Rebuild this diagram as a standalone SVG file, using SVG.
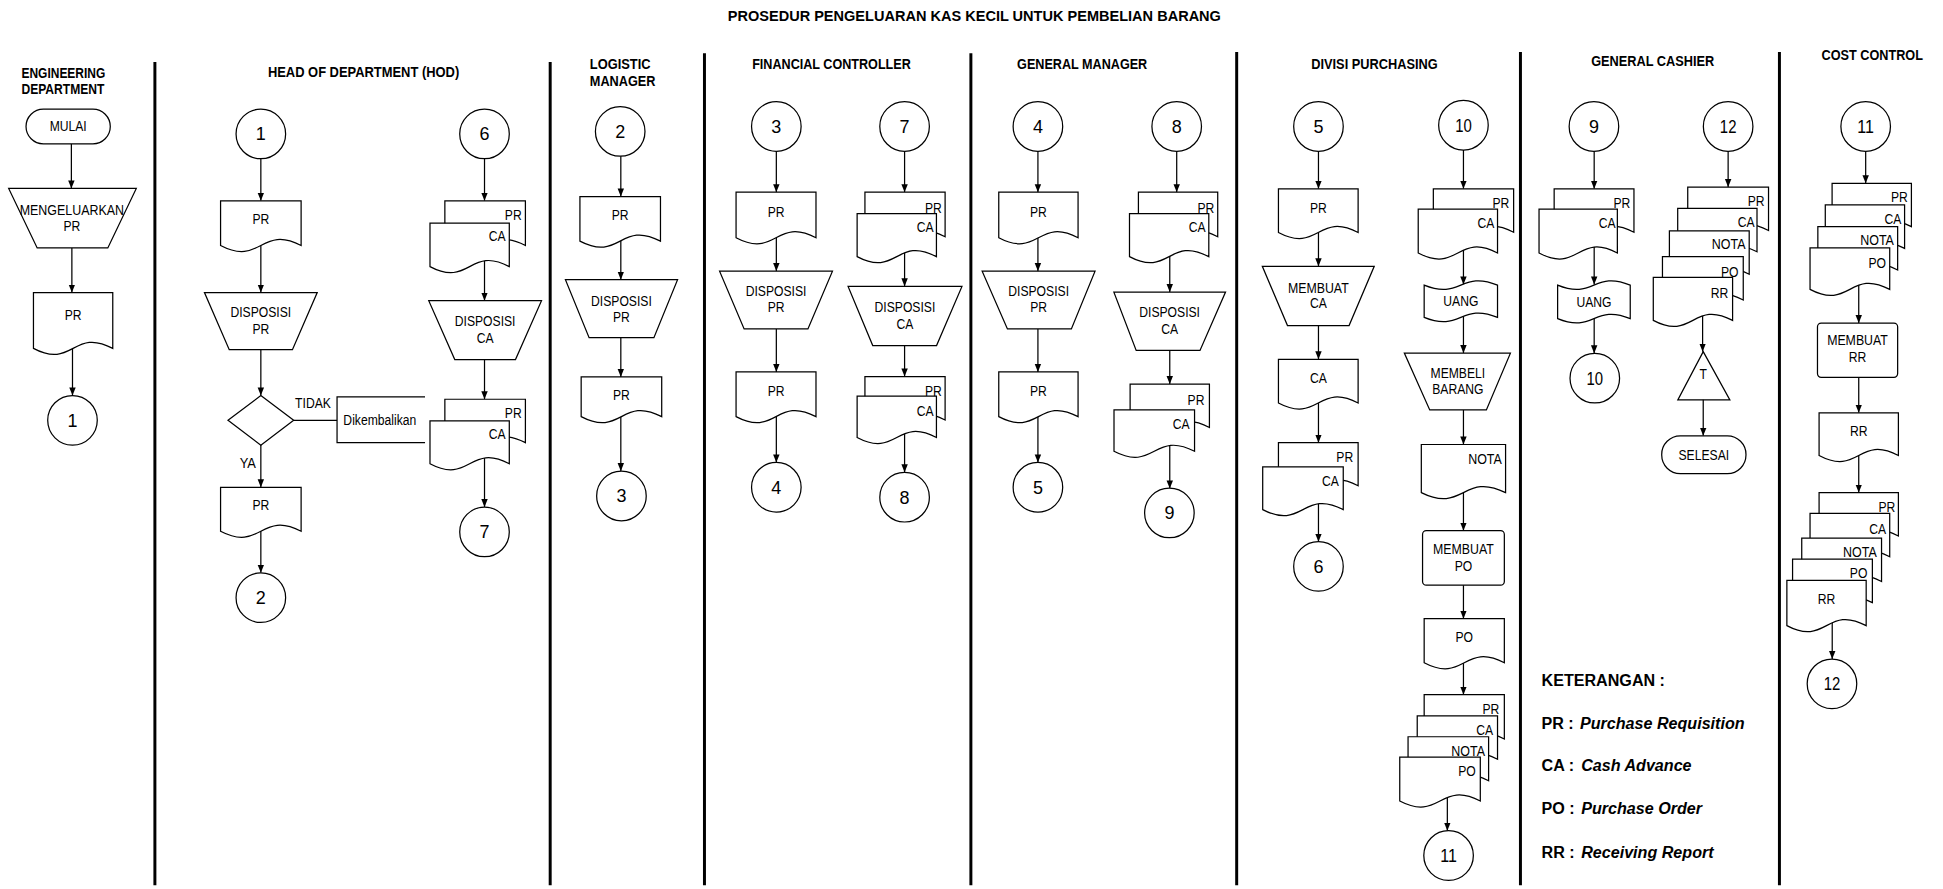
<svg xmlns="http://www.w3.org/2000/svg" width="1943" height="889" viewBox="0 0 1943 889">
<defs>
<marker id="ah" viewBox="0 0 10 10" refX="10" refY="5" markerWidth="6.5" markerHeight="6.5" markerUnits="userSpaceOnUse" orient="auto"><path d="M0,1 L10,5 L0,9 Z" fill="#000"/></marker>
<style>
.s{fill:#fff;stroke:#000;stroke-width:1}
.o{fill:none;stroke:#000;stroke-width:1}
text{font-family:"Liberation Sans",Arial,sans-serif;fill:#000}
.t{font-size:11.3px;text-anchor:middle}
.e{font-size:11.3px;text-anchor:end}
.n{font-size:14.5px;text-anchor:middle}
.h{font-size:11.3px;font-weight:bold;text-anchor:middle}
.hs{font-size:11.3px;font-weight:bold;text-anchor:start}
.lg{font-size:13px;font-weight:bold}
.lane{stroke:#000;stroke-width:2.4}
#connectors line{stroke:#000;stroke-width:1;marker-end:url(#ah)}
</style>
</defs>
<rect width="1943" height="889" fill="#fff"/>
<g transform="scale(1.23916,1.2399)">
<text x="786.3" y="17" font-size="12.5" font-weight="bold" text-anchor="middle" textLength="398" lengthAdjust="spacingAndGlyphs">PROSEDUR PENGELUARAN KAS KECIL UNTUK PEMBELIAN BARANG</text>
<g id="lanes">
<line class="lane" x1="125" y1="50" x2="125" y2="714"/>
<line class="lane" x1="444" y1="50" x2="444" y2="714"/>
<line class="lane" x1="568.5" y1="43" x2="568.5" y2="714"/>
<line class="lane" x1="783.5" y1="43" x2="783.5" y2="714"/>
<line class="lane" x1="998" y1="42" x2="998" y2="714"/>
<line class="lane" x1="1227" y1="42" x2="1227" y2="714"/>
<line class="lane" x1="1436" y1="42" x2="1436" y2="714"/>
</g>
<g id="headers">
<text class="hs" x="17.3" y="62.6" textLength="67.7" lengthAdjust="spacingAndGlyphs">ENGINEERING</text>
<text class="hs" x="17.3" y="76" textLength="66.9" lengthAdjust="spacingAndGlyphs">DEPARTMENT</text>
<text class="h" x="293.4" y="61.8" textLength="154.4" lengthAdjust="spacingAndGlyphs">HEAD OF DEPARTMENT (HOD)</text>
<text class="hs" x="476" y="55.4" textLength="49" lengthAdjust="spacingAndGlyphs">LOGISTIC</text>
<text class="hs" x="476" y="69.3" textLength="53" lengthAdjust="spacingAndGlyphs">MANAGER</text>
<text class="h" x="671" y="55.4" textLength="128" lengthAdjust="spacingAndGlyphs">FINANCIAL CONTROLLER</text>
<text class="h" x="873.3" y="55.6" textLength="105" lengthAdjust="spacingAndGlyphs">GENERAL MANAGER</text>
<text class="h" x="1109.2" y="55.4" textLength="102" lengthAdjust="spacingAndGlyphs">DIVISI PURCHASING</text>
<text class="h" x="1333.7" y="53.5" textLength="99.3" lengthAdjust="spacingAndGlyphs">GENERAL CASHIER</text>
<text class="h" x="1510.9" y="48.5" textLength="81.8" lengthAdjust="spacingAndGlyphs">COST CONTROL</text>
</g>
<g id="connectors">
<line x1="57.6" y1="116" x2="57.6" y2="152"/>
<line x1="58" y1="195" x2="58" y2="236"/>
<line x1="58.5" y1="275" x2="58.5" y2="319"/>
<line x1="210.5" y1="120" x2="210.5" y2="162"/>
<line x1="210.5" y1="192" x2="210.5" y2="236"/>
<line x1="210.5" y1="276" x2="210.5" y2="319"/>
<line x1="210.5" y1="352" x2="210.5" y2="393"/>
<line x1="210.5" y1="422" x2="210.5" y2="462"/>
<path d="M237 339 H272" class="o"/>
<line x1="391" y1="120" x2="391" y2="162"/>
<line x1="391" y1="205" x2="391" y2="242.5"/>
<line x1="391" y1="285" x2="391" y2="322"/>
<line x1="391" y1="365" x2="391" y2="409"/>
<line x1="501" y1="120" x2="501" y2="158.5"/>
<line x1="501" y1="188" x2="501" y2="225.6"/>
<line x1="501" y1="266" x2="501" y2="304"/>
<line x1="501" y1="330" x2="501" y2="380"/>
<line x1="626.5" y1="118" x2="626.5" y2="155"/>
<line x1="626.5" y1="185" x2="626.5" y2="218.7"/>
<line x1="626.5" y1="260" x2="626.5" y2="300"/>
<line x1="626.5" y1="330" x2="626.5" y2="373"/>
<line x1="730" y1="118" x2="730" y2="155"/>
<line x1="730" y1="198" x2="730" y2="231"/>
<line x1="730" y1="272" x2="730" y2="303.7"/>
<line x1="730" y1="345" x2="730" y2="381"/>
<line x1="837.6" y1="118" x2="837.6" y2="155"/>
<line x1="837.6" y1="185" x2="837.6" y2="218.7"/>
<line x1="837.6" y1="260" x2="837.6" y2="300"/>
<line x1="837.6" y1="330" x2="837.6" y2="373"/>
<line x1="949.6" y1="118" x2="949.6" y2="155"/>
<line x1="944" y1="198" x2="944" y2="235.6"/>
<line x1="944" y1="276" x2="944" y2="309.8"/>
<line x1="944" y1="355" x2="944" y2="394"/>
<line x1="1064" y1="118" x2="1064" y2="152.3"/>
<line x1="1064" y1="182" x2="1064" y2="214.8"/>
<line x1="1064" y1="256" x2="1064" y2="289.8"/>
<line x1="1064" y1="320" x2="1064" y2="357"/>
<line x1="1064" y1="403" x2="1064" y2="437"/>
<line x1="1181" y1="117" x2="1181" y2="152.3"/>
<line x1="1181" y1="196" x2="1181" y2="229.5"/>
<line x1="1181" y1="250" x2="1181" y2="284.8"/>
<line x1="1181" y1="325" x2="1181" y2="358.5"/>
<line x1="1181" y1="392" x2="1181" y2="428"/>
<line x1="1181" y1="466" x2="1181" y2="499"/>
<line x1="1181" y1="530" x2="1181" y2="560.3"/>
<line x1="1168" y1="640" x2="1168" y2="670"/>
<line x1="1286.5" y1="118" x2="1286.5" y2="152.3"/>
<line x1="1286.5" y1="196" x2="1286.5" y2="229.5"/>
<line x1="1286.5" y1="252" x2="1286.5" y2="285"/>
<line x1="1394.6" y1="118" x2="1394.6" y2="150.9"/>
<line x1="1374" y1="250" x2="1374" y2="283.6"/>
<line x1="1374.5" y1="318" x2="1374.5" y2="351.5"/>
<line x1="1505.6" y1="118" x2="1505.6" y2="147.8"/>
<line x1="1500" y1="225" x2="1500" y2="260.6"/>
<line x1="1500" y1="298" x2="1500" y2="332.9"/>
<line x1="1500" y1="360" x2="1500" y2="397.3"/>
<line x1="1478.6" y1="500" x2="1478.6" y2="531.5"/>
</g>

<g id="eng-mulai"><rect class="s" x="21" y="88" width="68" height="28" rx="14"/><text class="t" x="55" y="106" textLength="29.9" lengthAdjust="spacingAndGlyphs">MULAI</text></g>
<g id="eng-mengeluarkan"><path class="s" d="M7 152 H110 L87 200 H30 Z"/><text class="t" x="58" y="173" textLength="84.2" lengthAdjust="spacingAndGlyphs">MENGELUARKAN</text><text class="t" x="58" y="186" textLength="13.6" lengthAdjust="spacingAndGlyphs">PR</text></g>
<g id="eng-pr"><path class="s" d="M27 236 H91 V281 C59 264 59 298 27 281 Z"/><text class="t" x="59" y="258" textLength="13.6" lengthAdjust="spacingAndGlyphs">PR</text></g>
<g id="eng-c1"><circle class="s" cx="58.5" cy="339" r="20"/><text class="n" x="58.5" y="344.2">1</text></g>

<g id="hod-c1"><circle class="s" cx="210.5" cy="108" r="20"/><text class="n" x="210.5" y="113.2">1</text></g>
<g id="hod-pr1"><path class="s" d="M178 162 H243 V198 C210.5 181 210.5 215 178 198 Z"/><text class="t" x="210.5" y="181" textLength="13.6" lengthAdjust="spacingAndGlyphs">PR</text></g>
<g id="hod-disp-pr"><path class="s" d="M165 236 H256 L236 282 H185 Z"/><text class="t" x="210.5" y="255.5" textLength="49" lengthAdjust="spacingAndGlyphs">DISPOSISI</text><text class="t" x="210.5" y="269" textLength="13.6" lengthAdjust="spacingAndGlyphs">PR</text></g>
<g id="hod-decision"><path class="s" d="M210.5 319 L237 339 L210.5 359 L184 339 Z"/><text class="t" x="252.6" y="329" textLength="28.9" lengthAdjust="spacingAndGlyphs">TIDAK</text><text class="t" x="200" y="377.4" textLength="13.1" lengthAdjust="spacingAndGlyphs">YA</text></g>
<g id="hod-dikembalikan"><path class="o" d="M343 320 H272 V357 H343"/><text class="t" x="306.5" y="343" textLength="58.8" lengthAdjust="spacingAndGlyphs">Dikembalikan</text></g>
<g id="hod-pr2"><path class="s" d="M178 393 H243 V428.5 C210.5 411.5 210.5 445.5 178 428.5 Z"/><text class="t" x="210.5" y="411" textLength="13.6" lengthAdjust="spacingAndGlyphs">PR</text></g>
<g id="hod-c2"><circle class="s" cx="210.5" cy="482" r="20"/><text class="n" x="210.5" y="487.2">2</text></g>
<g id="hod-c6"><circle class="s" cx="391" cy="108" r="20"/><text class="n" x="391" y="113.2">6</text></g>
<g id="hod-prca1"><path class="s" d="M359 162 H424 V198 C391.5 181 391.5 215 359 198 Z"/><path class="s" d="M347 180 H411 V215 C379 198 379 232 347 215 Z"/><text class="e" x="421" y="177.5" textLength="13.6" lengthAdjust="spacingAndGlyphs">PR</text><text class="e" x="408" y="194" textLength="13.6" lengthAdjust="spacingAndGlyphs">CA</text></g>
<g id="hod-disp-ca"><path class="s" d="M346 242.5 H437 L416 290 H367 Z"/><text class="t" x="391.5" y="263" textLength="49" lengthAdjust="spacingAndGlyphs">DISPOSISI</text><text class="t" x="391.5" y="276.5" textLength="13.6" lengthAdjust="spacingAndGlyphs">CA</text></g>
<g id="hod-prca2"><path class="s" d="M359 322 H424 V357 C391.5 340 391.5 374 359 357 Z"/><path class="s" d="M347 339.5 H411 V374 C379 357 379 391 347 374 Z"/><text class="e" x="421" y="337.5" textLength="13.6" lengthAdjust="spacingAndGlyphs">PR</text><text class="e" x="408" y="354" textLength="13.6" lengthAdjust="spacingAndGlyphs">CA</text></g>
<g id="hod-c7"><circle class="s" cx="391" cy="429" r="20"/><text class="n" x="391" y="434.2">7</text></g>

<g id="lm-c2"><circle class="s" cx="500.5" cy="106" r="20"/><text class="n" x="500.5" y="111.2">2</text></g>
<g id="lm-pr1"><path class="s" d="M468 158.5 H533 V194.5 C500.5 177.5 500.5 211.5 468 194.5 Z"/><text class="t" x="500.5" y="177.7" textLength="13.6" lengthAdjust="spacingAndGlyphs">PR</text></g>
<g id="lm-disp"><path class="s" d="M456.3 225.6 H546.8 L527.7 272.3 H475.4 Z"/><text class="t" x="501.5" y="246.6" textLength="49" lengthAdjust="spacingAndGlyphs">DISPOSISI</text><text class="t" x="501.5" y="259.6" textLength="13.6" lengthAdjust="spacingAndGlyphs">PR</text></g>
<g id="lm-pr2"><path class="s" d="M469 304 H534 V336 C501.5 319 501.5 353 469 336 Z"/><text class="t" x="501.5" y="323" textLength="13.6" lengthAdjust="spacingAndGlyphs">PR</text></g>
<g id="lm-c3"><circle class="s" cx="501.5" cy="400" r="20"/><text class="n" x="501.5" y="405.2">3</text></g>

<g id="fc-c3"><circle class="s" cx="626.5" cy="102" r="20"/><text class="n" x="626.5" y="107.2">3</text></g>
<g id="fc-pr1"><path class="s" d="M594 155 H658.5 V191.7 C626.25 174.7 626.25 208.7 594 191.7 Z"/><text class="t" x="626.3" y="175" textLength="13.6" lengthAdjust="spacingAndGlyphs">PR</text></g>
<g id="fc-disp-pr"><path class="s" d="M580.7 218.7 H671.8 L652 265.3 H600.5 Z"/><text class="t" x="626.3" y="238.8" textLength="49" lengthAdjust="spacingAndGlyphs">DISPOSISI</text><text class="t" x="626.3" y="252" textLength="13.6" lengthAdjust="spacingAndGlyphs">PR</text></g>
<g id="fc-pr2"><path class="s" d="M594 300 H658.5 V336 C626.25 319 626.25 353 594 336 Z"/><text class="t" x="626.3" y="319" textLength="13.6" lengthAdjust="spacingAndGlyphs">PR</text></g>
<g id="fc-c4"><circle class="s" cx="626.5" cy="393" r="20"/><text class="n" x="626.5" y="398.2">4</text></g>
<g id="fc-c7"><circle class="s" cx="730" cy="102" r="20"/><text class="n" x="730" y="107.2">7</text></g>
<g id="fc-prca1"><path class="s" d="M698 155 H762.7 V191 C730.35 174 730.35 208 698 191 Z"/><path class="s" d="M691.7 172.3 H755.7 V207 C723.7 190 723.7 224 691.7 207 Z"/><text class="e" x="760" y="171.5" textLength="13.6" lengthAdjust="spacingAndGlyphs">PR</text><text class="e" x="753.5" y="187.5" textLength="13.6" lengthAdjust="spacingAndGlyphs">CA</text></g>
<g id="fc-disp-ca"><path class="s" d="M684.4 231 H776.3 L755.8 278.7 H704.3 Z"/><text class="t" x="730.3" y="251.3" textLength="49" lengthAdjust="spacingAndGlyphs">DISPOSISI</text><text class="t" x="730.3" y="265" textLength="13.6" lengthAdjust="spacingAndGlyphs">CA</text></g>
<g id="fc-prca2"><path class="s" d="M698 303.7 H762.7 V338.7 C730.35 321.7 730.35 355.7 698 338.7 Z"/><path class="s" d="M691.7 319.5 H755.7 V352.9 C723.7 335.9 723.7 369.9 691.7 352.9 Z"/><text class="e" x="760" y="319.4" textLength="13.6" lengthAdjust="spacingAndGlyphs">PR</text><text class="e" x="753.5" y="335.2" textLength="13.6" lengthAdjust="spacingAndGlyphs">CA</text></g>
<g id="fc-c8"><circle class="s" cx="730" cy="401" r="20"/><text class="n" x="730" y="406.2">8</text></g>

<g id="gm-c4"><circle class="s" cx="837.6" cy="102" r="20"/><text class="n" x="837.6" y="107.2">4</text></g>
<g id="gm-pr1"><path class="s" d="M806 155 H870 V191.7 C838 174.7 838 208.7 806 191.7 Z"/><text class="t" x="838" y="175" textLength="13.6" lengthAdjust="spacingAndGlyphs">PR</text></g>
<g id="gm-disp-pr"><path class="s" d="M792.6 218.7 H883.7 L864.6 265.3 H813 Z"/><text class="t" x="838.2" y="238.8" textLength="49" lengthAdjust="spacingAndGlyphs">DISPOSISI</text><text class="t" x="838.2" y="252" textLength="13.6" lengthAdjust="spacingAndGlyphs">PR</text></g>
<g id="gm-pr2"><path class="s" d="M806 300 H870 V336 C838 319 838 353 806 336 Z"/><text class="t" x="838" y="319" textLength="13.6" lengthAdjust="spacingAndGlyphs">PR</text></g>
<g id="gm-c5"><circle class="s" cx="837.6" cy="393" r="20"/><text class="n" x="837.6" y="398.2">5</text></g>
<g id="gm-c8"><circle class="s" cx="949.6" cy="102" r="20"/><text class="n" x="949.6" y="107.2">8</text></g>
<g id="gm-prca1"><path class="s" d="M918.7 155 H982.7 V191 C950.7 174 950.7 208 918.7 191 Z"/><path class="s" d="M911.5 172.3 H975.5 V207 C943.5 190 943.5 224 911.5 207 Z"/><text class="e" x="980" y="172" textLength="13.6" lengthAdjust="spacingAndGlyphs">PR</text><text class="e" x="973" y="187.5" textLength="13.6" lengthAdjust="spacingAndGlyphs">CA</text></g>
<g id="gm-disp-ca"><path class="s" d="M898.9 235.6 H989 L968.4 282.6 H916.9 Z"/><text class="t" x="943.9" y="255.5" textLength="49" lengthAdjust="spacingAndGlyphs">DISPOSISI</text><text class="t" x="943.9" y="269.3" textLength="13.6" lengthAdjust="spacingAndGlyphs">CA</text></g>
<g id="gm-prca2"><path class="s" d="M912 309.8 H976 V344.8 C944 327.8 944 361.8 912 344.8 Z"/><path class="s" d="M899 330.6 H964 V364 C931.5 347 931.5 381 899 364 Z"/><text class="e" x="972" y="326.3" textLength="13.6" lengthAdjust="spacingAndGlyphs">PR</text><text class="e" x="960" y="345.8" textLength="13.6" lengthAdjust="spacingAndGlyphs">CA</text></g>
<g id="gm-c9"><circle class="s" cx="943.7" cy="413.7" r="20"/><text class="n" x="943.7" y="418.9">9</text></g>

<g id="dp-c5"><circle class="s" cx="1064" cy="102" r="20"/><text class="n" x="1064" y="107.2">5</text></g>
<g id="dp-pr"><path class="s" d="M1031.7 152.3 H1096 V187.5 C1063.85 170.5 1063.85 204.5 1031.7 187.5 Z"/><text class="t" x="1063.9" y="171.5" textLength="13.6" lengthAdjust="spacingAndGlyphs">PR</text></g>
<g id="dp-membuat-ca"><path class="s" d="M1018.7 214.8 H1109 L1088.7 262.6 H1039 Z"/><text class="t" x="1063.9" y="236" textLength="49" lengthAdjust="spacingAndGlyphs">MEMBUAT</text><text class="t" x="1063.9" y="248.5" textLength="13.6" lengthAdjust="spacingAndGlyphs">CA</text></g>
<g id="dp-ca"><path class="s" d="M1031.7 289.8 H1096 V325 C1063.85 308 1063.85 342 1031.7 325 Z"/><text class="t" x="1063.9" y="308.8" textLength="13.6" lengthAdjust="spacingAndGlyphs">CA</text></g>
<g id="dp-prca"><path class="s" d="M1031.7 357 H1096 V391.8 C1063.85 374.8 1063.85 408.8 1031.7 391.8 Z"/><path class="s" d="M1019 376.5 H1084 V411 C1051.5 394 1051.5 428 1019 411 Z"/><text class="e" x="1092" y="372.7" textLength="13.6" lengthAdjust="spacingAndGlyphs">PR</text><text class="e" x="1080.5" y="391.6" textLength="13.6" lengthAdjust="spacingAndGlyphs">CA</text></g>
<g id="dp-c6"><circle class="s" cx="1064" cy="456.8" r="20"/><text class="n" x="1064" y="462">6</text></g>
<g id="dp-c10"><circle class="s" cx="1181" cy="101" r="20"/><text class="n" x="1181" y="106.2" textLength="13.4" lengthAdjust="spacingAndGlyphs">10</text></g>
<g id="dp-prca-b"><path class="s" d="M1156.7 152.3 H1221.5 V187.3 C1189.1 170.3 1189.1 204.3 1156.7 187.3 Z"/><path class="s" d="M1144.5 168.7 H1208.5 V204 C1176.5 187 1176.5 221 1144.5 204 Z"/><text class="e" x="1218" y="168" textLength="13.6" lengthAdjust="spacingAndGlyphs">PR</text><text class="e" x="1206" y="184" textLength="13.6" lengthAdjust="spacingAndGlyphs">CA</text></g>
<g id="dp-uang"><path class="s" d="M1149.3 230 C1178.9 242 1178.9 218 1208.5 230 V256 C1178.9 244 1178.9 268 1149.3 256 Z"/><text class="t" x="1178.9" y="247" textLength="28.3" lengthAdjust="spacingAndGlyphs">UANG</text></g>
<g id="dp-membeli"><path class="s" d="M1133.3 284.8 H1218.9 L1199.5 330.6 H1153.8 Z"/><text class="t" x="1176.5" y="305" textLength="44.1" lengthAdjust="spacingAndGlyphs">MEMBELI</text><text class="t" x="1176.5" y="317.4" textLength="41.4" lengthAdjust="spacingAndGlyphs">BARANG</text></g>
<g id="dp-nota"><path class="s" d="M1147 358.5 H1215 V397.3 C1181 380.3 1181 414.3 1147 397.3 Z"/><text class="e" x="1212" y="374" textLength="27.2" lengthAdjust="spacingAndGlyphs">NOTA</text></g>
<g id="dp-membuat-po"><rect class="s" x="1148" y="428" width="66" height="44" rx="3"/><text class="t" x="1181" y="446.6" textLength="49" lengthAdjust="spacingAndGlyphs">MEMBUAT</text><text class="t" x="1181" y="460.5" textLength="14.2" lengthAdjust="spacingAndGlyphs">PO</text></g>
<g id="dp-po"><path class="s" d="M1149.3 499 H1214 V534.5 C1181.65 517.5 1181.65 551.5 1149.3 534.5 Z"/><text class="t" x="1181.6" y="517.4" textLength="14.2" lengthAdjust="spacingAndGlyphs">PO</text></g>
<g id="dp-stack4"><path class="s" d="M1149.3 560.3 H1214 V596 C1181.65 579 1181.65 613 1149.3 596 Z"/><path class="s" d="M1143.7 577.4 H1208.5 V612.4 C1176.1 595.4 1176.1 629.4 1143.7 612.4 Z"/><path class="s" d="M1136.3 594.2 H1201.3 V629.7 C1168.8 612.7 1168.8 646.7 1136.3 629.7 Z"/><path class="s" d="M1129.6 610.6 H1194.6 V646 C1162.1 629 1162.1 663 1129.6 646 Z"/><text class="e" x="1210" y="575.7" textLength="13.6" lengthAdjust="spacingAndGlyphs">PR</text><text class="e" x="1205" y="592.7" textLength="13.6" lengthAdjust="spacingAndGlyphs">CA</text><text class="e" x="1198.4" y="609.6" textLength="27.2" lengthAdjust="spacingAndGlyphs">NOTA</text><text class="e" x="1191" y="626" textLength="14.2" lengthAdjust="spacingAndGlyphs">PO</text></g>
<g id="dp-c11"><circle class="s" cx="1169" cy="690" r="20"/><text class="n" x="1169" y="695.2" textLength="13.4" lengthAdjust="spacingAndGlyphs">11</text></g>

<g id="gc-c9"><circle class="s" cx="1286.3" cy="102" r="20"/><text class="n" x="1286.3" y="107.2">9</text></g>
<g id="gc-prca"><path class="s" d="M1254.2 152.3 H1318.6 V187.3 C1286.4 170.3 1286.4 204.3 1254.2 187.3 Z"/><path class="s" d="M1242 168.7 H1305.2 V204 C1273.6 187 1273.6 221 1242 204 Z"/><text class="e" x="1315.6" y="168" textLength="13.6" lengthAdjust="spacingAndGlyphs">PR</text><text class="e" x="1303.7" y="184" textLength="13.6" lengthAdjust="spacingAndGlyphs">CA</text></g>
<g id="gc-uang"><path class="s" d="M1257 230 C1286.3 242 1286.3 218 1315.6 230 V257 C1286.3 245 1286.3 269 1257 257 Z"/><text class="t" x="1286.3" y="247.5" textLength="28.3" lengthAdjust="spacingAndGlyphs">UANG</text></g>
<g id="gc-c10"><circle class="s" cx="1287" cy="305" r="20"/><text class="n" x="1287" y="310.2" textLength="13.4" lengthAdjust="spacingAndGlyphs">10</text></g>
<g id="gc-c12"><circle class="s" cx="1394.6" cy="102" r="20"/><text class="n" x="1394.6" y="107.2" textLength="13.4" lengthAdjust="spacingAndGlyphs">12</text></g>
<g id="gc-stack5"><path class="s" d="M1362 150.9 H1427.2 V185.9 C1394.6 168.9 1394.6 202.9 1362 185.9 Z"/><path class="s" d="M1353.9 168.1 H1417.9 V203.1 C1385.9 186.1 1385.9 220.1 1353.9 203.1 Z"/><path class="s" d="M1347.2 186.2 H1411.6 V221.2 C1379.4 204.2 1379.4 238.2 1347.2 221.2 Z"/><path class="s" d="M1341.6 207 H1406.8 V242 C1374.2 225 1374.2 259 1341.6 242 Z"/><path class="s" d="M1334.2 223.7 H1398.2 V258.4 C1366.2 241.4 1366.2 275.4 1334.2 258.4 Z"/><text class="e" x="1424" y="166" textLength="13.6" lengthAdjust="spacingAndGlyphs">PR</text><text class="e" x="1416" y="183" textLength="13.6" lengthAdjust="spacingAndGlyphs">CA</text><text class="e" x="1408.6" y="201" textLength="27.2" lengthAdjust="spacingAndGlyphs">NOTA</text><text class="e" x="1403" y="223.5" textLength="14.2" lengthAdjust="spacingAndGlyphs">PO</text><text class="e" x="1394.8" y="240" textLength="14.2" lengthAdjust="spacingAndGlyphs">RR</text></g>
<g id="gc-t"><path class="s" d="M1374.5 283.6 L1396 322.5 H1354 Z"/><text class="t" x="1374.5" y="305.5" textLength="6" lengthAdjust="spacingAndGlyphs">T</text></g>
<g id="gc-selesai"><rect class="s" x="1341" y="351.5" width="68" height="30.5" rx="15"/><text class="t" x="1375" y="370.7" textLength="40.9" lengthAdjust="spacingAndGlyphs">SELESAI</text></g>

<g id="cc-c11"><circle class="s" cx="1505.6" cy="102" r="20"/><text class="n" x="1505.6" y="107.2" textLength="13.4" lengthAdjust="spacingAndGlyphs">11</text></g>
<g id="cc-stack4"><path class="s" d="M1478.5 147.8 H1542.5 V182.8 C1510.5 165.8 1510.5 199.8 1478.5 182.8 Z"/><path class="s" d="M1473 165.3 H1537 V200.3 C1505 183.3 1505 217.3 1473 200.3 Z"/><path class="s" d="M1467 182.8 H1531.4 V217.8 C1499.2 200.8 1499.2 234.8 1467 217.8 Z"/><path class="s" d="M1460.7 200 H1525 V233.4 C1492.85 216.4 1492.85 250.4 1460.7 233.4 Z"/><text class="e" x="1539.6" y="163" textLength="13.6" lengthAdjust="spacingAndGlyphs">PR</text><text class="e" x="1534.3" y="180.4" textLength="13.6" lengthAdjust="spacingAndGlyphs">CA</text><text class="e" x="1528.4" y="197.7" textLength="27.2" lengthAdjust="spacingAndGlyphs">NOTA</text><text class="e" x="1522" y="216" textLength="14.2" lengthAdjust="spacingAndGlyphs">PO</text></g>
<g id="cc-membuat-rr"><rect class="s" x="1466.7" y="260.6" width="64.7" height="43.7" rx="3"/><text class="t" x="1499" y="278.5" textLength="49" lengthAdjust="spacingAndGlyphs">MEMBUAT</text><text class="t" x="1499" y="291.6" textLength="14.2" lengthAdjust="spacingAndGlyphs">RR</text></g>
<g id="cc-rr"><path class="s" d="M1468 332.9 H1532 V367.4 C1500 350.4 1500 384.4 1468 367.4 Z"/><text class="t" x="1500" y="351.3" textLength="14.2" lengthAdjust="spacingAndGlyphs">RR</text></g>
<g id="cc-stack5"><path class="s" d="M1468 397.3 H1532 V432.3 C1500 415.3 1500 449.3 1468 432.3 Z"/><path class="s" d="M1460.7 414 H1525 V449 C1492.85 432 1492.85 466 1460.7 449 Z"/><path class="s" d="M1454 434 H1518.4 V469 C1486.2 452 1486.2 486 1454 469 Z"/><path class="s" d="M1446.6 451 H1511 V486 C1478.8 469 1478.8 503 1446.6 486 Z"/><path class="s" d="M1442 468 H1506 V504.6 C1474 487.6 1474 521.6 1442 504.6 Z"/><text class="e" x="1529.5" y="413" textLength="13.6" lengthAdjust="spacingAndGlyphs">PR</text><text class="e" x="1522" y="430.4" textLength="13.6" lengthAdjust="spacingAndGlyphs">CA</text><text class="e" x="1514.6" y="449.4" textLength="27.2" lengthAdjust="spacingAndGlyphs">NOTA</text><text class="e" x="1507" y="466.5" textLength="14.2" lengthAdjust="spacingAndGlyphs">PO</text><text class="t" x="1474" y="487.5" textLength="14.2" lengthAdjust="spacingAndGlyphs">RR</text></g>
<g id="cc-c12"><circle class="s" cx="1478.4" cy="551.5" r="20"/><text class="n" x="1478.4" y="556.7" textLength="13.4" lengthAdjust="spacingAndGlyphs">12</text></g>

<g id="legend">
<text class="lg" x="1244" y="553.6">KETERANGAN :</text>
<text class="lg" x="1244" y="587.6">PR : <tspan font-style="italic" x="1275">Purchase Requisition</tspan></text>
<text class="lg" x="1244" y="621.6">CA : <tspan font-style="italic" x="1276">Cash Advance</tspan></text>
<text class="lg" x="1244" y="656.6">PO : <tspan font-style="italic" x="1276">Purchase Order</tspan></text>
<text class="lg" x="1244" y="691.6">RR : <tspan font-style="italic" x="1276">Receiving Report</tspan></text>
</g>
</g>
</svg>
